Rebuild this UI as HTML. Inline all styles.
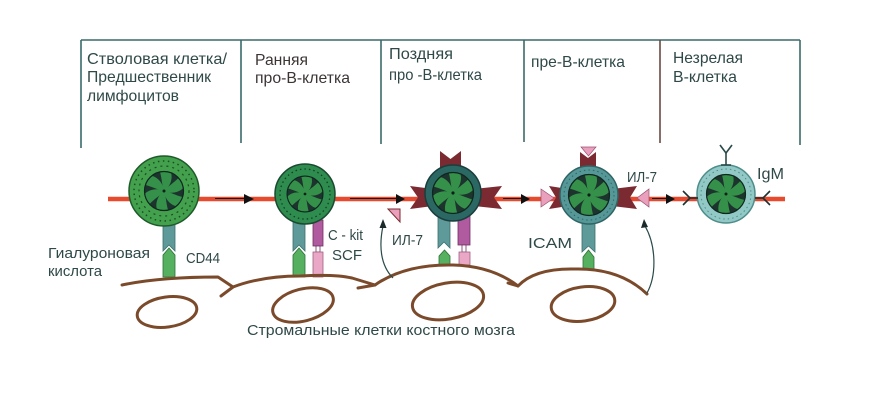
<!DOCTYPE html>
<html><head><meta charset="utf-8"><style>
html,body{margin:0;padding:0;background:#fff;}
svg{display:block;}
text{font-family:"Liberation Sans","Noto Sans CJK SC",sans-serif;fill:#2f4848;}
</style></head><body>
<svg width="870" height="400" viewBox="0 0 870 400" xmlns="http://www.w3.org/2000/svg">
<defs>
 <g id="nuc">
  <circle r="20" fill="#1d332e"/>
  <g fill="#35914a">
   <path d="M0,0 C6,-4 9,-12 7,-18.5 A19.5 19.5 0 0 0 -4,-19 C-2,-12 -2,-5 0,0Z"/>
   <path d="M0,0 C6,-4 9,-12 7,-18.5 A19.5 19.5 0 0 0 -4,-19 C-2,-12 -2,-5 0,0Z" transform="rotate(60)"/>
   <path d="M0,0 C6,-4 9,-12 7,-18.5 A19.5 19.5 0 0 0 -4,-19 C-2,-12 -2,-5 0,0Z" transform="rotate(120)"/>
   <path d="M0,0 C6,-4 9,-12 7,-18.5 A19.5 19.5 0 0 0 -4,-19 C-2,-12 -2,-5 0,0Z" transform="rotate(180)"/>
   <path d="M0,0 C6,-4 9,-12 7,-18.5 A19.5 19.5 0 0 0 -4,-19 C-2,-12 -2,-5 0,0Z" transform="rotate(240)"/>
   <path d="M0,0 C6,-4 9,-12 7,-18.5 A19.5 19.5 0 0 0 -4,-19 C-2,-12 -2,-5 0,0Z" transform="rotate(300)"/>
  </g>
  <circle r="19.5" fill="none" stroke="#10261f" stroke-width="1.2"/>
  <circle r="1.5" fill="#0f2019"/>
 </g>
</defs>

<!-- header frame -->
<g stroke="#3a6a6a" stroke-width="1.6" fill="none">
 <line x1="81" y1="40" x2="800" y2="40"/>
 <line x1="81" y1="40" x2="81" y2="148"/>
 <line x1="241" y1="40" x2="241" y2="143"/>
 <line x1="381" y1="40" x2="381" y2="144"/>
 <line x1="524" y1="40" x2="524" y2="142"/>
 <line x1="660" y1="40" x2="660" y2="143" stroke="#6a4a40"/>
 <line x1="800" y1="40" x2="800" y2="145"/>
</g>

<g font-size="16">
 <text x="87" y="64" textLength="140" lengthAdjust="spacingAndGlyphs">Стволовая клетка/</text>
 <text x="87" y="82" textLength="124" lengthAdjust="spacingAndGlyphs">Предшественник</text>
 <text x="87" y="101" textLength="92" lengthAdjust="spacingAndGlyphs">лимфоцитов</text>
 <text x="255" y="65" textLength="53" lengthAdjust="spacingAndGlyphs" style="fill:#3d3535">Ранняя</text>
 <text x="255" y="83" textLength="95" lengthAdjust="spacingAndGlyphs" style="fill:#3d3535">про-В-клетка</text>
 <text x="389" y="59" textLength="64" lengthAdjust="spacingAndGlyphs">Поздняя</text>
 <text x="389" y="80" textLength="93" lengthAdjust="spacingAndGlyphs">про -В-клетка</text>
 <text x="531" y="67" textLength="94" lengthAdjust="spacingAndGlyphs">пре-В-клетка</text>
 <text x="673" y="63" textLength="70" lengthAdjust="spacingAndGlyphs">Незрелая</text>
 <text x="673" y="82" textLength="64" lengthAdjust="spacingAndGlyphs">В-клетка</text>
</g>

<!-- red line -->
<line x1="108" y1="199" x2="785" y2="199" stroke="#e84a30" stroke-width="4.5"/>
<g stroke="#1a1a1a" stroke-width="1">
 <line x1="215" y1="198.5" x2="246" y2="198.5"/>
 <line x1="350" y1="198.5" x2="398" y2="198.5"/>
 <line x1="503" y1="198.5" x2="523" y2="198.5"/>
 <line x1="652" y1="198.5" x2="668" y2="198.5"/>
</g>
<g fill="#111">
 <polygon points="244,194 254,199 244,204"/>
 <polygon points="396,194 405,199 396,204"/>
 <polygon points="521,194 530,199 521,204"/>
 <polygon points="666,194 675,199 666,204"/>
</g>

<!-- stalks cell 1 -->
<polygon points="163,222 175,222 175,251 169,245 163,251" fill="#5e9a9a" stroke="#3d6e6e" stroke-width="0.8"/>
<polygon points="163,277 163,255 169,248 175,255 175,277" fill="#55b060" stroke="#2e7038" stroke-width="0.8"/>
<!-- stalks cell 2 -->
<polygon points="293,220 305,220 305,251 299,245 293,251" fill="#5e9a9a" stroke="#3d6e6e" stroke-width="0.8"/>
<polygon points="293,277 293,255 299,248 305,255 305,277" fill="#55b060" stroke="#2e7038" stroke-width="0.8"/>
<rect x="313" y="220" width="10" height="26" fill="#b05aa0" stroke="#6e3060" stroke-width="0.8"/>
<rect x="316" y="246" width="4" height="6" fill="#fff" stroke="#6e3060" stroke-width="0.8"/>
<rect x="313" y="252" width="10" height="25" fill="#eaa8c6" stroke="#a06080" stroke-width="0.8"/>
<!-- stalks cell 3 -->
<polygon points="438,216 450,216 450,248 444,242 438,248" fill="#5e9a9a" stroke="#3d6e6e" stroke-width="0.8"/>
<polygon points="439,266 439,256 444.5,250 450,256 450,266" fill="#55b060" stroke="#2e7038" stroke-width="0.8"/>
<rect x="458" y="216" width="12" height="29" fill="#b05aa0" stroke="#6e3060" stroke-width="0.8"/>
<rect x="462" y="245" width="4" height="7" fill="#fff" stroke="#6e3060" stroke-width="0.8"/>
<rect x="459" y="252" width="11" height="13" fill="#eaa8c6" stroke="#a06080" stroke-width="0.8"/>
<!-- stalk cell 4 -->
<polygon points="582,220 595,220 595,252 588.5,246 582,252" fill="#5e9a9a" stroke="#3d6e6e" stroke-width="0.8"/>
<polygon points="583,270 583,257 588.5,250 594,257 594,270" fill="#55b060" stroke="#2e7038" stroke-width="0.8"/>

<!-- maroon receptors cell 3 -->
<g fill="#7a2a30">
 <polygon points="440,151 450.5,159 461,151 461,170 440,170"/>
 <polygon points="410,186 433,189 433,206 410,209 418,197.5"/>
 <polygon points="502,186 474,189 474,206 502,209 494,197.5"/>
</g>
<!-- maroon receptors cell 4 -->
<g fill="#7a2a30">
 <polygon points="580,152 588,158 596,152 596,172 580,172"/>
 <polygon points="549,186 568,189 568,206 549,209 556,197.5"/>
 <polygon points="637,186 612,189 612,206 637,209 630,197.5"/>
</g>
<g fill="#eaa0bc" stroke="#9a5070" stroke-width="0.7">
 <polygon points="581,147 596,147 588.5,156"/>
 <polygon points="541,189 541,207 554,198"/>
 <polygon points="649,189 649,207 637,198"/>
</g>

<!-- cell 1 -->
<circle cx="164" cy="191" r="35" fill="#43a04c" stroke="#1e5a2a" stroke-width="1.5"/>
<circle cx="164" cy="191" r="30" fill="none" stroke="#1d4d25" stroke-width="1.5" stroke-dasharray="1.5 3.5"/>
<circle cx="164" cy="191" r="25" fill="none" stroke="#1d4d25" stroke-width="1.2" stroke-dasharray="2 4"/>
<use href="#nuc" transform="translate(164,191)"/>
<!-- cell 2 -->
<circle cx="305" cy="194" r="30" fill="#2f8c4f" stroke="#1a4a30" stroke-width="1.5"/>
<circle cx="305" cy="194" r="25" fill="none" stroke="#163f25" stroke-width="1.3" stroke-dasharray="1.5 3"/>
<use href="#nuc" transform="translate(305,194) scale(0.92)"/>
<!-- cell 3 -->
<circle cx="453" cy="193" r="28" fill="#2b6864" stroke="#1a3e3c" stroke-width="1.5"/>
<use href="#nuc" transform="translate(453,193) scale(1.05)"/>
<!-- cell 4 -->
<circle cx="589" cy="195" r="29" fill="#569898" stroke="#2f6464" stroke-width="1.5"/>
<circle cx="589" cy="195" r="25" fill="none" stroke="#2f6464" stroke-width="1" stroke-dasharray="1.5 3"/>
<use href="#nuc" transform="translate(589,195) scale(1.05)"/>
<!-- cell 5 -->
<circle cx="726" cy="194" r="29" fill="#92c9c6" stroke="#4d8d8a" stroke-width="1.5"/>
<circle cx="726" cy="194" r="25" fill="none" stroke="#4d8d8a" stroke-width="1" stroke-dasharray="1.5 3"/>
<use href="#nuc" transform="translate(726,194)"/>
<g stroke="#2a4a4a" stroke-width="1.6" fill="none">
 <line x1="726" y1="165" x2="726" y2="153"/>
 <polyline points="720,145 726,153 732,145"/>
 <line x1="721" y1="165" x2="731" y2="165"/>
</g>
<g stroke="#1f3030" stroke-width="1.6" fill="none">
 <polyline points="683,191 690,198 683,205"/>
 <line x1="690" y1="198" x2="698" y2="198"/>
 <polyline points="770,191 763,198 770,205"/>
 <line x1="763" y1="198" x2="755" y2="198"/>
</g>

<!-- IL-7 free triangle -->
<polygon points="388,209 400,209 400,222" fill="#eaa0bc" stroke="#7a2a30" stroke-width="1"/>

<!-- stromal ground line -->
<g stroke="#7b4a2b" stroke-width="3" fill="none" stroke-linecap="round" stroke-linejoin="round">
 <path d="M122,285 Q160,277 218,277 L233,287 Q262,276 300,276 Q335,274 352,278 L375,285 Q405,264 453,265 Q492,266 518,286 Q535,268 575,269 Q620,268 647,294"/>
 <path d="M233,287 L221,296"/>
 <path d="M375,285 L358,288"/>
 <path d="M518,286 L508,283"/>
 <ellipse cx="167" cy="312" rx="30" ry="15" transform="rotate(-8 167 312)"/>
 <ellipse cx="303" cy="305" rx="31" ry="16" transform="rotate(-14 303 305)"/>
 <ellipse cx="448" cy="301" rx="36" ry="18" transform="rotate(-10 448 301)"/>
 <ellipse cx="583" cy="304" rx="32" ry="17" transform="rotate(-8 583 304)"/>
</g>

<!-- curved arrows -->
<g stroke="#2a4a4a" stroke-width="1.2" fill="none">
 <path d="M383,226 C379,245 380,265 393,278"/>
 <path d="M645,226 C656,245 657,275 647,293"/>
</g>
<g fill="#1a2a2a">
 <polygon points="383,219 379.5,228 386.5,228"/>
 <polygon points="644,219 641,228 648,227"/>
</g>

<!-- labels -->
<g font-size="15">
 <text x="48" y="258" textLength="102" lengthAdjust="spacingAndGlyphs">Гиалуроновая</text>
 <text x="48" y="276" textLength="54" lengthAdjust="spacingAndGlyphs">кислота</text>
 <text x="186" y="263" textLength="34" lengthAdjust="spacingAndGlyphs">CD44</text>
 <text x="328" y="240" textLength="35" lengthAdjust="spacingAndGlyphs">C - kit</text>
 <text x="332" y="260" textLength="30" lengthAdjust="spacingAndGlyphs">SCF</text>
 <text x="392" y="245" textLength="31" lengthAdjust="spacingAndGlyphs">ИЛ-7</text>
 <text x="528" y="248" textLength="44" lengthAdjust="spacingAndGlyphs">ICAM</text>
 <text x="627" y="182" textLength="30" lengthAdjust="spacingAndGlyphs">ИЛ-7</text>
 <text x="757" y="179" textLength="27" lengthAdjust="spacingAndGlyphs" font-size="16">IgM</text>
 <text x="247" y="335" textLength="268" lengthAdjust="spacingAndGlyphs">Стромальные клетки костного мозга</text>
</g>
</svg>
</body></html>
